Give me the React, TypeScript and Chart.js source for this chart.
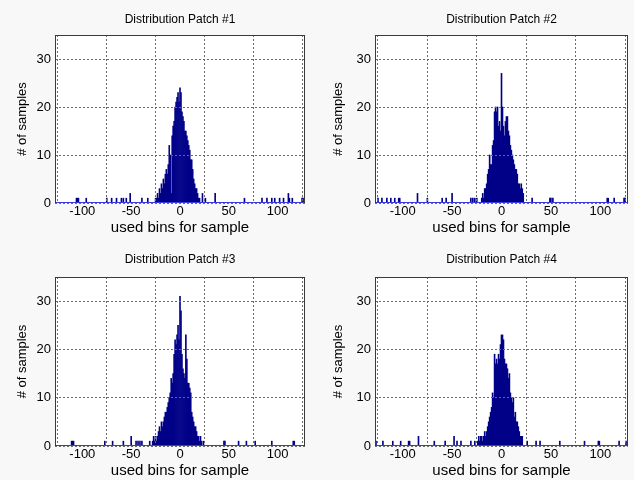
import React, { useEffect, useRef } from 'react';
import { Chart, registerables } from 'chart.js';

Chart.register(...registerables);

// ---------------- data ----------------
const xTicks = [-100, -50, 0, 50, 100];
const yTicks = [0, 10, 20, 30];
const xRange = [-128, 128];
const yRange = [0, 35];
const panelTitles = [
  'Distribution Patch #1',
  'Distribution Patch #2',
  'Distribution Patch #3',
  'Distribution Patch #4',
];
const xLabel = 'used bins for sample';
const yLabel = '# of samples';

// Patch #1: contiguous core (starting bin + counts) and isolated outlier bins
const patch1CoreStart = -25;
const patch1Core = [
  1, 1, 2, 1, 3, 2, 4, 3, 5, 4, 6, 7, 6, 8, 12, 10, 2, 14, 16, 17, 20, 21, 22, 23, 21,
  24, 23, 19, 18, 17, 15, 15, 14, 13, 12, 11, 9, 9, 7, 5, 4, 3, 3, 2, 1, 1,
];
const patch1OutlierBins = [-106, -105, -104, -96, -75, -70, -65, -60, -58, -55, -51, -39, -33, 23, 26, 36, 66, 84, 89, 94, 97, 102, 106, 111, 112, 115, 125, 126];
const patch1OutlierCounts = [1, 1, 1, 1, 1, 1, 1, 1, 1, 1, 2, 1, 1, 2, 1, 2, 1, 1, 1, 1, 1, 1, 1, 2, 1, 1, 1, 1];

// Patch #2
const patch2CoreStart = -20;
const patch2Core = [
  1, 2, 1, 3, 3, 4, 6, 7, 10, 8, 8, 12, 13, 19, 20, 19, 20, 16, 17, 15, 27,
  20, 16, 14, 17, 18, 18, 15, 14, 12, 11, 10, 9, 8, 7, 7, 6, 4, 4, 3, 4, 3, 2,
];
const patch2OutlierBins = [-125, -121, -116, -112, -108, -104, -103, -85, -75, -60, -56, -50, -31, -29, -27, -25, 31, 49, 50, 52, 107, 108, 114, 124, 125];
const patch2OutlierCounts = [1, 1, 1, 1, 1, 1, 1, 2, 1, 1, 1, 2, 1, 1, 1, 1, 1, 1, 1, 1, 1, 1, 1, 1, 1];

// Patch #3
const patch3CoreStart = -28;
const patch3Core = [
  1, 2, 1, 2, 1, 2, 3, 4, 3, 5, 4, 5, 6, 7, 7, 8, 9, 10, 11, 14, 13, 15, 19, 22, 21, 23, 25, 22,
  31, 28, 19, 16, 15, 14, 23, 18, 13, 13, 12, 11, 7, 6, 5, 4, 4, 3, 2, 2, 1, 2,
];
const patch3OutlierBins = [-111, -110, -109, -77, -69, -58, -50, -45, -43, -41, -39, -31, 22, 24, 45, 46, 60, 68, 77, 94, 116, 117];
const patch3OutlierCounts = [1, 1, 1, 1, 1, 1, 2, 1, 1, 1, 1, 1, 1, 1, 1, 1, 1, 1, 1, 1, 1, 1];

// Patch #4
const patch4CoreStart = -24;
const patch4Core = [
  1, 2, 1, 2, 2, 1, 2, 3, 2, 3, 4, 5, 6, 7, 8, 11, 10, 19, 17, 18, 17, 19, 18, 21,
  23, 23, 22, 18, 17, 17, 16, 14, 15, 11, 10, 9, 10, 6, 7, 5, 5, 4, 3, 2, 2, 2,
];
const patch4OutlierBins = [-127, -120, -110, -102, -94, -93, -84, -68, -57, -48, -45, -41, -31, -27, 26, 35, 39, 59, 84, 98, 99, 119, 126];
const patch4OutlierCounts = [1, 1, 1, 1, 1, 1, 2, 1, 1, 2, 1, 1, 1, 1, 1, 1, 1, 1, 1, 1, 1, 1, 1];

const patchCoreStarts = [patch1CoreStart, patch2CoreStart, patch3CoreStart, patch4CoreStart];
const patchCores = [patch1Core, patch2Core, patch3Core, patch4Core];
const patchOutlierBins = [patch1OutlierBins, patch2OutlierBins, patch3OutlierBins, patch4OutlierBins];
const patchOutlierCounts = [patch1OutlierCounts, patch2OutlierCounts, patch3OutlierCounts, patch4OutlierCounts];

// ---------------- layout / style ----------------
const FONT = 'Arial, "Liberation Sans", Helvetica, sans-serif';
const PAGE_BG = '#f8f8f8';
const BAR_FILL = '#000088';
const BASE_BLUE = '#3a3ae0';

// canvas box, plot-area box and y-label centre (page pixels)
const panels = [
  { cx: 0, cy: 0, cw: 317, ch: 240, left: 55, right: 305, top: 35, bottom: 203, ylx: 22 },
  { cx: 317, cy: 0, cw: 317, ch: 240, left: 375, right: 628, top: 35, bottom: 203, ylx: 338 },
  { cx: 0, cy: 240, cw: 317, ch: 240, left: 55, right: 305, top: 277, bottom: 446, ylx: 22 },
  { cx: 317, cy: 240, cw: 317, ch: 240, left: 375, right: 628, top: 277, bottom: 446, ylx: 338 },
];

const boxPlugin = {
  id: 'matlabBox',
  beforeDraw(chart: any) {
    const { ctx, chartArea: a } = chart;
    ctx.save();
    ctx.fillStyle = '#ffffff';
    ctx.fillRect(a.left, a.top, a.right - a.left, a.bottom - a.top);
    ctx.restore();
  },
  afterDraw(chart: any) {
    const { ctx, chartArea: a } = chart;
    ctx.save();
    ctx.strokeStyle = '#3a3a3a';
    ctx.lineWidth = 1;
    ctx.strokeRect(a.left + 0.5, a.top + 0.5, a.right - a.left - 1, a.bottom - a.top - 1);
    const y0 = Math.round(chart.scales.y.getPixelForValue(0)) - 0.5;
    ctx.strokeStyle = BASE_BLUE;
    ctx.beginPath();
    ctx.moveTo(a.left + 1, y0);
    ctx.lineTo(a.right - 1, y0);
    ctx.stroke();
    ctx.restore();
  },
};

function Panel({ index }: { index: number }) {
  const ref = useRef<HTMLCanvasElement | null>(null);
  const p = panels[index];

  useEffect(() => {
    if (!ref.current) return;
    const points: { x: number; y: number }[] = [];
    patchCores[index].forEach((c, i) => points.push({ x: patchCoreStarts[index] + i, y: c }));
    patchOutlierBins[index].forEach((b, i) => points.push({ x: b, y: patchOutlierCounts[index][i] }));
    points.sort((a, b) => a.x - b.x);

    const relTop = p.top - p.cy;
    const titleLine = 12 * 1.2;
    const titlePadTop = 20 - titleLine / 2;
    const titlePadBottom = relTop - titlePadTop - titleLine;
    const yAxisWidth = p.left - p.cx;
    const xAxisHeight = p.cy + p.ch - p.bottom;
    const padRight = p.cx + p.cw - p.right;
    const xTitleCenterFromBottom = p.cy + p.ch - (p.bottom + 25);
    const xTitleLine = 15 * 1.1;
    const yTitleLine = 13 * 1.2;
    const yTitlePad = p.ylx - p.cx - yTitleLine / 2;

    const chart = new Chart(ref.current, {
      type: 'bar',
      data: {
        datasets: [
          {
            data: points as any,
            backgroundColor: BAR_FILL,
            borderWidth: 0,
            barPercentage: 1,
            categoryPercentage: 1,
          },
        ],
      },
      options: {
        animation: false,
        responsive: false,
        maintainAspectRatio: false,
        layout: { padding: { left: 0, right: padRight, top: 0, bottom: 0 } },
        plugins: {
          legend: { display: false },
          tooltip: { enabled: false },
          title: {
            display: true,
            text: panelTitles[index],
            fullSize: false,
            color: '#000',
            font: { family: FONT, size: 12, weight: 'normal', lineHeight: 1.2 },
            padding: { top: titlePadTop, bottom: titlePadBottom },
          },
        },
        scales: {
          x: {
            type: 'linear',
            min: xRange[0],
            max: xRange[1],
            offset: false,
            grid: { color: '#6a6a6a', lineWidth: 1, drawTicks: false, z: 1 },
            border: { display: false, dash: [2, 2] },
            ticks: {
              color: '#000',
              padding: 1,
              maxRotation: 0,
              font: { family: FONT, size: 13, lineHeight: 1.2 },
            },
            afterBuildTicks: (s: any) => {
              s.ticks = xTicks.map((v) => ({ value: v }));
            },
            afterFit: (s: any) => {
              s.height = xAxisHeight;
            },
            title: {
              display: true,
              text: xLabel,
              color: '#000',
              font: { family: FONT, size: 15, lineHeight: 1.1 },
              padding: { top: 0, bottom: xTitleCenterFromBottom - xTitleLine / 2 },
            },
          },
          y: {
            type: 'linear',
            min: yRange[0],
            max: yRange[1],
            grid: { color: '#6a6a6a', lineWidth: 1, drawTicks: false, z: 1 },
            border: { display: false, dash: [2, 2] },
            ticks: {
              color: '#000',
              padding: 4,
              font: { family: FONT, size: 13 },
            },
            afterBuildTicks: (s: any) => {
              s.ticks = yTicks.map((v) => ({ value: v }));
            },
            afterFit: (s: any) => {
              s.width = yAxisWidth;
            },
            title: {
              display: true,
              text: yLabel,
              color: '#000',
              font: { family: FONT, size: 13, lineHeight: 1.2 },
              padding: { top: yTitlePad, bottom: 0 },
            },
          },
        },
      },
      plugins: [boxPlugin],
    });
    return () => chart.destroy();
  }, [index]);

  return (
    <canvas
      ref={ref}
      width={p.cw}
      height={p.ch}
      style={{ position: 'absolute', left: p.cx, top: p.cy, width: p.cw, height: p.ch }}
    />
  );
}

export default function App() {
  return (
    <div
      style={{
        position: 'absolute',
        left: 0,
        top: 0,
        width: 634,
        height: 480,
        background: PAGE_BG,
        overflow: 'hidden',
      }}
    >
      {panels.map((_, i) => (
        <Panel key={i} index={i} />
      ))}
    </div>
  );
}
